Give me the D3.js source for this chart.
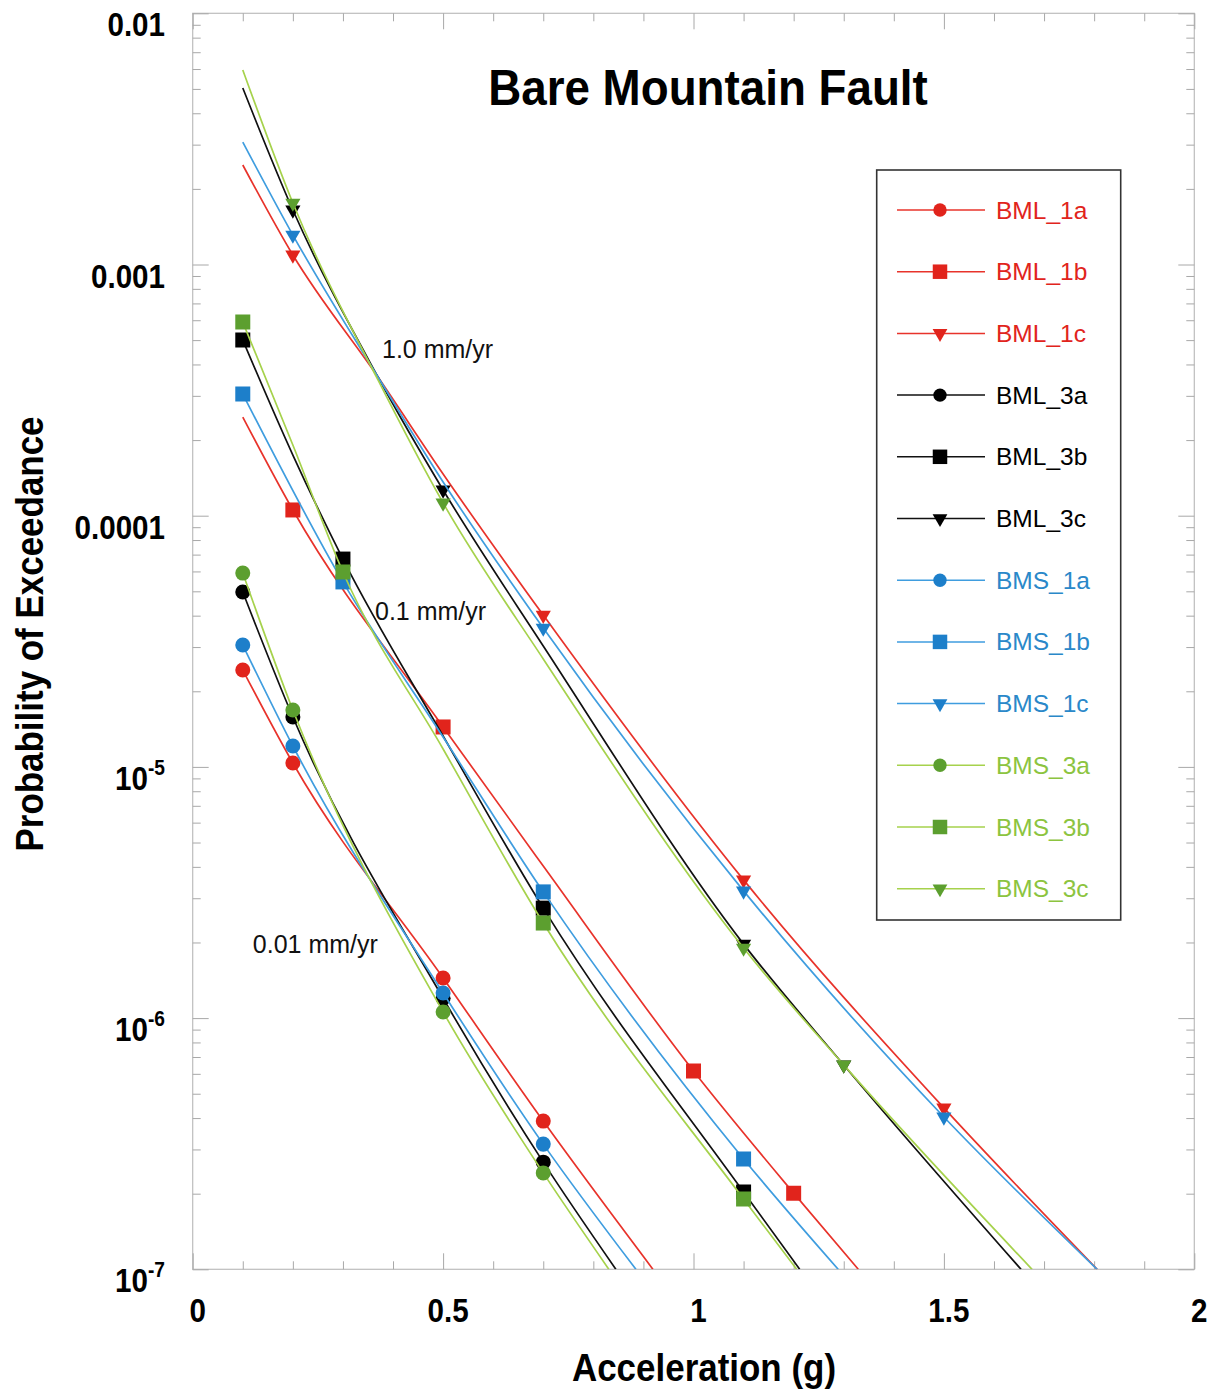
<!DOCTYPE html>
<html><head><meta charset="utf-8">
<script src="https://cdn.jsdelivr.net/npm/d3@7"></script>
<style>body{margin:0;background:#fff}</style>
</head><body>
<svg id="c" width="1219" height="1393" xmlns="http://www.w3.org/2000/svg"></svg>
<script>
// ---------------- DATA ----------------
const seriesNames = ["BML_1a","BML_1b","BML_1c","BML_3a","BML_3b","BML_3c",
                     "BMS_1a","BMS_1b","BMS_1c","BMS_3a","BMS_3b","BMS_3c"];
// acceleration (g) and probability of exceedance
const BML_1a_x = [0.1, 0.2, 0.5, 0.7, 0.919];
const BML_1a_p = [2.43e-5, 1.036e-5, 1.445e-6, 3.89e-7, 1e-7];
const BML_1a_m = [0.1, 0.2, 0.5, 0.7];

const BML_1b_x = [0.1, 0.2, 0.5, 0.7, 1.0, 1.2, 1.329];
const BML_1b_p = [2.47e-4, 1.054e-4, 1.442e-5, 4.03e-6, 6.16e-7, 2.01e-7, 1e-7];
const BML_1b_m = [0.2, 0.5, 1.0, 1.2];

const BML_1c_x = [0.1, 0.2, 0.37, 0.5, 0.7, 1.1, 1.5, 1.806];
const BML_1c_p = [2.49e-3, 1.091e-3, 3.565e-4, 1.466e-4, 4.02e-5, 3.55e-6, 4.39e-7, 1e-7];
const BML_1c_m = [0.2, 0.7, 1.1, 1.5];

const BML_3a_x = [0.1, 0.2, 0.5, 0.7, 0.845];
const BML_3a_p = [4.97e-5, 1.58e-5, 1.20e-6, 2.67e-7, 1e-7];
const BML_3a_m = [0.1, 0.2, 0.5, 0.7];

const BML_3b_x = [0.1, 0.2, 0.3, 0.5, 0.7, 1.1, 1.212];
const BML_3b_p = [5.0e-4, 1.744e-4, 6.72e-5, 1.327e-5, 2.74e-6, 2.03e-7, 1e-7];
const BML_3b_m = [0.1, 0.3, 0.7, 1.1];

const BML_3c_x = [0.1, 0.2, 0.37, 0.5, 0.7, 1.1, 1.3, 1.654];
const BML_3c_p = [5.04e-3, 1.648e-3, 3.565e-4, 1.266e-4, 3.03e-5, 1.97e-6, 6.51e-7, 1e-7];
const BML_3c_m = [0.2, 0.5, 1.1, 1.3];

const BMS_1a_x = [0.1, 0.2, 0.5, 0.7, 0.885];
const BMS_1a_p = [3.056e-5, 1.211e-5, 1.259e-6, 3.15e-7, 1e-7];
const BMS_1a_m = [0.1, 0.2, 0.5, 0.7];

const BMS_1b_x = [0.1, 0.3, 0.5, 0.7, 1.1, 1.289];
const BMS_1b_p = [3.05e-4, 5.45e-5, 1.315e-5, 3.18e-6, 2.75e-7, 1e-7];
const BMS_1b_m = [0.1, 0.3, 0.7, 1.1];

const BMS_1c_x = [0.1, 0.2, 0.37, 0.5, 0.7, 1.1, 1.5, 1.806];
const BMS_1c_p = [3.07e-3, 1.31e-3, 3.565e-4, 1.362e-4, 3.57e-5, 3.21e-6, 4.04e-7, 1e-7];
const BMS_1c_m = [0.2, 0.7, 1.1, 1.5];

const BMS_3a_x = [0.1, 0.2, 0.5, 0.7, 0.831];
const BMS_3a_p = [5.91e-5, 1.684e-5, 1.058e-6, 2.42e-7, 1e-7];
const BMS_3a_m = [0.1, 0.2, 0.5, 0.7];

const BMS_3b_x = [0.1, 0.2, 0.3, 0.5, 0.7, 1.1, 1.206];
const BMS_3b_p = [5.90e-4, 1.912e-4, 5.97e-5, 1.178e-5, 2.39e-6, 1.905e-7, 1e-7];
const BMS_3b_m = [0.1, 0.3, 0.7, 1.1];

const BMS_3c_x = [0.1, 0.2, 0.37, 0.5, 0.7, 1.1, 1.3, 1.676];
const BMS_3c_p = [5.95e-3, 1.757e-3, 3.47e-4, 1.124e-4, 2.69e-5, 1.90e-6, 6.51e-7, 1e-7];
const BMS_3c_m = [0.2, 0.5, 1.1, 1.3];

const xTickValues = [0, 0.5, 1, 1.5, 2];
const xTickLabels = ["0", "0.5", "1", "1.5", "2"];
const yTickValues = [1e-2, 1e-3, 1e-4, 1e-5, 1e-6, 1e-7];
const yTickLabels = ["0.01", "0.001", "0.0001", "10^-5", "10^-6", "10^-7"];
const annotations = [["1.0 mm/yr", 0.378, 4.25e-4], ["0.1 mm/yr", 0.364, 3.84e-5], ["0.01 mm/yr", 0.12, 1.82e-6]];
const titleText = "Bare Mountain Fault";
const xTitle = "Acceleration (g)";
const yTitle = "Probability of Exceedance";

// ---------------- BUILD ----------------
const dataTable = {
  BML_1a:[BML_1a_x,BML_1a_p,BML_1a_m], BML_1b:[BML_1b_x,BML_1b_p,BML_1b_m], BML_1c:[BML_1c_x,BML_1c_p,BML_1c_m],
  BML_3a:[BML_3a_x,BML_3a_p,BML_3a_m], BML_3b:[BML_3b_x,BML_3b_p,BML_3b_m], BML_3c:[BML_3c_x,BML_3c_p,BML_3c_m],
  BMS_1a:[BMS_1a_x,BMS_1a_p,BMS_1a_m], BMS_1b:[BMS_1b_x,BMS_1b_p,BMS_1b_m], BMS_1c:[BMS_1c_x,BMS_1c_p,BMS_1c_m],
  BMS_3a:[BMS_3a_x,BMS_3a_p,BMS_3a_m], BMS_3b:[BMS_3b_x,BMS_3b_p,BMS_3b_m], BMS_3c:[BMS_3c_x,BMS_3c_p,BMS_3c_m]
};
const series = seriesNames.map(n => {
  const [xs, ps, ms] = dataTable[n];
  return {name:n, pts: xs.map((x,i)=>[x, ps[i]]), marks: ms.map(m => [m, ps[xs.indexOf(m)]])};
});

// styles
const lineColor = {BML_1:"#e8332b", BML_3:"#111111", BMS_1:"#3f9ddf", BMS_3:"#a6d24c"};
const markColor = {BML_1:"#e1241c", BML_3:"#000000", BMS_1:"#1d7fca", BMS_3:"#5c9f2f"};
const textColor = {BML_1:"#e1241c", BML_3:"#000000", BMS_1:"#2a88c9", BMS_3:"#8cc43f"};
const fam = n => n.slice(0,5);
const shape = n => n.slice(-1);

const FONT = "'Liberation Sans', Arial, Helvetica, sans-serif";
const L = 192.7, R = 1194.3, T = 13.3, B = 1269.3;
const x = d3.scaleLinear().domain([0, 2]).range([L, R]);
const y = d3.scaleLog().domain([1e-7, 1e-2]).range([B, T]);

const svg = d3.select("#c");
svg.append("rect").attr("width",1219).attr("height",1393).attr("fill","#fff");

svg.append("defs").append("clipPath").attr("id","plotclip")
  .append("rect").attr("x",L).attr("y",T).attr("width",R-L).attr("height",B-T);

// frame
svg.append("rect").attr("x",L).attr("y",T).attr("width",R-L).attr("height",B-T)
  .attr("fill","none").attr("stroke","#bdbdbd").attr("stroke-width",1.2);

// ticks
const minorX = d3.range(0, 21).map(i => i/10).filter(v => Math.abs(v*2 - Math.round(v*2)) > 1e-6);
const minorY = [];
for (let k = -7; k <= -3; k++) for (let m = 2; m <= 9; m++) minorY.push(m * Math.pow(10, k));
function styleAxis(g){ g.select(".domain").remove(); g.selectAll("line").attr("stroke","#a8a8a8").attr("stroke-width",1); g.selectAll("text").remove(); }
const axes = [
  [d3.axisBottom, x, `translate(0,${B})`],
  [d3.axisTop, x, `translate(0,${T})`],
  [d3.axisLeft, y, `translate(${L},0)`],
  [d3.axisRight, y, `translate(${R},0)`]
];
axes.forEach(([fn, sc, tr]) => {
  const isX = sc === x;
  svg.append("g").attr("transform", tr).call(fn(sc).tickValues(isX ? minorX : minorY).tickSize(-8).tickFormat("")).call(styleAxis);
  svg.append("g").attr("transform", tr).call(fn(sc).tickValues(isX ? xTickValues : yTickValues).tickSize(-16).tickFormat("")).call(styleAxis);
});

// tick labels
const tickFS = 34, tickSX = 0.87;
xTickValues.forEach((v, i) => {
  svg.append("text").attr("transform", `translate(${x(v)+5},${B+53}) scale(${tickSX},1)`)
    .attr("text-anchor","middle").attr("font-family",FONT).attr("font-weight","bold")
    .attr("font-size",tickFS).attr("fill","#000").text(xTickLabels[i]);
});
yTickValues.forEach((v, i) => {
  const lab = yTickLabels[i];
  const t = svg.append("text").attr("transform", `translate(165,${y(v)+23}) scale(${tickSX},1)`)
    .attr("text-anchor","end").attr("font-family",FONT).attr("font-weight","bold")
    .attr("font-size",tickFS).attr("fill","#000");
  if (lab.includes("^")) {
    const [base, exp] = lab.split("^");
    t.append("tspan").text(base);
    t.append("tspan").attr("font-size",22).attr("dy",-15).text(exp);
  } else t.text(lab);
});

// titles
svg.append("text").attr("transform", `translate(708,105) scale(0.915,1)`)
  .attr("text-anchor","middle").attr("font-family",FONT).attr("font-weight","bold")
  .attr("font-size",50).attr("fill","#000").text(titleText);
svg.append("text").attr("transform", `translate(704,1381) scale(0.92,1)`)
  .attr("text-anchor","middle").attr("font-family",FONT).attr("font-weight","bold")
  .attr("font-size",38).attr("fill","#000").text(xTitle);
svg.append("text").attr("transform", `translate(43,634) rotate(-90) scale(0.92,1)`)
  .attr("text-anchor","middle").attr("font-family",FONT).attr("font-weight","bold")
  .attr("font-size",38).attr("fill","#000").text(yTitle);

// symbols
function symPath(s){
  if (s === "a") return d3.symbol(d3.symbolCircle, 177)();
  if (s === "b") return d3.symbol(d3.symbolSquare, 225)();
  return d3.symbol(d3.symbolTriangle, 100)();
}
const symRot = s => s === "c" ? " rotate(180)" : "";

// lines + markers
const line = d3.line().x(d => x(d[0])).y(d => y(d[1])).curve(d3.curveMonotoneX);
const plot = svg.append("g").attr("clip-path","url(#plotclip)");
series.forEach(s => {
  const g = plot.append("g");
  g.append("path").attr("d", line(s.pts)).attr("fill","none")
    .attr("stroke", lineColor[fam(s.name)]).attr("stroke-width",1.7);
  g.selectAll("path.m").data(s.marks).join("path").attr("class","m")
    .attr("d", symPath(shape(s.name)))
    .attr("transform", d => `translate(${x(d[0])},${y(d[1])})${symRot(shape(s.name))}`)
    .attr("fill", markColor[fam(s.name)]);
});

// annotations
annotations.forEach(([t, ax, ap]) => {
  svg.append("text").attr("x", x(ax)).attr("y", y(ap)).attr("font-family",FONT)
    .attr("font-size",25).attr("fill","#111").text(t);
});

// legend
const lg = svg.append("g");
lg.append("rect").attr("x",876.7).attr("y",170).attr("width",244).attr("height",750)
  .attr("fill","#fff").attr("stroke","#333").attr("stroke-width",1.6);
seriesNames.forEach((n, i) => {
  const cy = 210 + i * 61.7;
  lg.append("line").attr("x1",897).attr("x2",985).attr("y1",cy).attr("y2",cy)
    .attr("stroke", lineColor[fam(n)]).attr("stroke-width",1.5);
  lg.append("path").attr("d", d3.symbol(shape(n)==="a"?d3.symbolCircle:shape(n)==="b"?d3.symbolSquare:d3.symbolTriangle, shape(n)==="a"?140:shape(n)==="b"?210:95)())
    .attr("transform", `translate(940,${cy})${symRot(shape(n))}`).attr("fill", markColor[fam(n)]);
  lg.append("text").attr("x",996).attr("y",cy+8.5).attr("font-family",FONT)
    .attr("font-size",24.5).attr("fill", textColor[fam(n)]).text(n);
});
</script>
</body></html>
